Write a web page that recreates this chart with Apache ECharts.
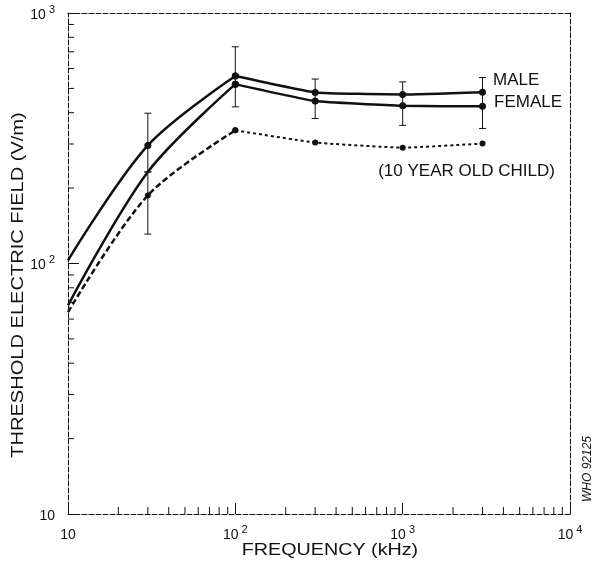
<!DOCTYPE html>
<html><head><meta charset="utf-8">
<script src="https://cdn.jsdelivr.net/npm/echarts@6/dist/echarts.min.js"></script>
<style>html,body{margin:0;padding:0;background:#fff}#c{width:594px;height:569px}</style>
</head><body><div id="c"></div>
<script>
// ---- data ----
const frequencies = [10, 30, 100, 300, 1000, 3000];          // kHz
const male   = [103, 296, 560, 482, 473, 483];               // V/m
const female = [68, 232, 520, 445, 426, 424];
const child  = [64, 187, 340, 304, 290, 301];
const maleMarkers   = [false, true, true, true, true, true];
const femaleMarkers = [false, false, true, true, true, true];
const childMarkers  = [false, true, true, true, true, true];
const errorFreq = [30, 30, 100, 300, 1000, 3000];
const errorLow  = [232, 131, 422, 379, 356, 346];
const errorHigh = [398, 232, 733, 545, 531, 553];
const seriesNames = ['MALE', 'FEMALE', '(10 YEAR OLD CHILD)'];
// ---- axes ----
const xTicks = [10, 100, 1000, 10000];
const xTickLabels = [['10', ''], ['10', '2'], ['10', '3'], ['10', '4']];
const yTicks = [10, 100, 1000];
const yTickLabels = [['10', ''], ['10', '2'], ['10', '3']];
const xMinorTicks = [20, 30, 40, 50, 60, 70, 80, 90, 200, 300, 400, 500, 600, 700, 800, 900, 2000, 3000, 4000, 5000, 6000, 7000, 8000, 9000];
const yMinorTicks = [20, 30, 40, 50, 60, 70, 80, 90, 200, 300, 400, 500, 600, 700, 800, 900];
const xTitle = 'FREQUENCY (kHz)';
const yTitle = 'THRESHOLD ELECTRIC FIELD (V/m)';
const sideNote = 'WHO 92125';
const peakIndex = 2; // 100 kHz: the curves rise up to here, then flatten

const FONT = '"Liberation Sans", Arial, Helvetica, sans-serif';
const INK = '#111';

function tickLabel(list, labels) {
  return function (v) {
    for (let i = 0; i < list.length; i++) {
      if (Math.abs(Math.log10(v) - Math.log10(list[i])) < 1e-6) {
        const l = labels[i];
        return l[1] ? '{b|' + l[0] + '}{s|' + l[1] + '}' : '{b|' + l[0] + '}';
      }
    }
    return '';
  };
}
const richTick = {
  b: { fontSize: 14, fontFamily: FONT, color: INK, lineHeight: 18, verticalAlign: 'bottom' },
  s: { fontSize: 11, fontFamily: FONT, color: INK, lineHeight: 18, verticalAlign: 'top', padding: [0, 0, 0, 3] }
};
const dashedLine = { show: true, lineStyle: { color: INK, width: 1, type: [5, 2] } };

function lineData(vals, markers, labelOpt) {
  return frequencies.map((f, i) => {
    const item = { value: [f, vals[i]], symbol: markers[i] ? 'circle' : 'none' };
    if (i === vals.length - 1 && labelOpt) item.label = labelOpt;
    return item;
  });
}
const labelBase = { show: true, color: INK, fontSize: 17, fontFamily: FONT };

function twoPart(name, vals, markers, labelOpt, size, styleRise, styleFlat) {
  const d = lineData(vals, markers, labelOpt);
  return [
    { name: name, type: 'line', smooth: 0.32, symbolSize: size, lineStyle: styleRise, itemStyle: { color: INK }, data: d.slice(0, peakIndex + 1), z: 3 },
    { name: name, type: 'line', smooth: 0.12, symbolSize: size, lineStyle: styleFlat, itemStyle: { color: INK }, data: d.slice(peakIndex), z: 3 }
  ];
}

const solid = { color: INK, width: 2.5 };
const series = [].concat(
  twoPart(seriesNames[0], male, maleMarkers, Object.assign({}, labelBase, { formatter: seriesNames[0], position: 'right', offset: [2, -12] }), 7, solid, solid),
  twoPart(seriesNames[1], female, femaleMarkers, Object.assign({}, labelBase, { formatter: seriesNames[1], position: 'right', offset: [3, -4] }), 7, solid, solid),
  twoPart(seriesNames[2], child, childMarkers, Object.assign({}, labelBase, { formatter: seriesNames[2], position: 'bottom', offset: [-16, 11] }), 6,
    { color: INK, width: 2.5, type: [6, 3] }, { color: INK, width: 2, type: [3, 3] }),
  [{
    type: 'custom', coordinateSystem: 'cartesian2d', silent: true, clip: false,
    encode: { x: 0, y: [1, 2] },
    data: errorFreq.map((f, i) => [f, errorLow[i], errorHigh[i]]),
    renderItem: function (params, api) {
      const lo = api.coord([api.value(0), api.value(1)]);
      const hi = api.coord([api.value(0), api.value(2)]);
      const w = 3.5;
      const st = { stroke: INK, lineWidth: 1 };
      return { type: 'group', children: [
        { type: 'line', shape: { x1: lo[0], y1: lo[1], x2: hi[0], y2: hi[1] }, style: st },
        { type: 'line', shape: { x1: lo[0] - w, y1: lo[1], x2: lo[0] + w, y2: lo[1] }, style: st },
        { type: 'line', shape: { x1: hi[0] - w, y1: hi[1], x2: hi[0] + w, y2: hi[1] }, style: st }
      ] };
    },
    z: 2
  }, {
    type: 'custom', coordinateSystem: 'cartesian2d', silent: true, clip: false,
    data: xMinorTicks.map(v => [v, yTicks[0]]),
    renderItem: function (params, api) {
      const p = api.coord([api.value(0), api.value(1)]);
      return { type: 'line', shape: { x1: p[0], y1: p[1], x2: p[0], y2: p[1] - 7 }, style: { stroke: INK, lineWidth: 1 } };
    }
  }, {
    type: 'custom', coordinateSystem: 'cartesian2d', silent: true, clip: false,
    data: yMinorTicks.map(v => [xTicks[0], v]),
    renderItem: function (params, api) {
      const p = api.coord([api.value(0), api.value(1)]);
      return { type: 'line', shape: { x1: p[0], y1: p[1], x2: p[0] + 6, y2: p[1] }, style: { stroke: INK, lineWidth: 1 } };
    }
  }]
);

const chart = echarts.init(document.getElementById('c'), null, { renderer: 'canvas' });
chart.setOption({
  animation: false,
  backgroundColor: '#fff',
  grid: { left: 68, right: 24, top: 13, bottom: 55, containLabel: false },
  xAxis: [{
    type: 'log', logBase: 10, min: 10, max: 10000,
    axisLine: dashedLine,
    axisTick: { show: true, inside: true, length: 11, lineStyle: { color: INK, width: 1 } },
    axisLabel: { margin: 10, formatter: tickLabel(xTicks, xTickLabels), rich: richTick },
    splitLine: { show: false }, minorTick: { show: false }
  }, {
    type: 'log', logBase: 10, min: 10, max: 10000, position: 'top',
    axisLine: dashedLine, axisTick: { show: false }, axisLabel: { show: false }, splitLine: { show: false }
  }],
  yAxis: [{
    type: 'log', logBase: 10, min: 10, max: 1000,
    axisLine: dashedLine,
    axisTick: { show: true, inside: true, length: 11, lineStyle: { color: INK, width: 1 } },
    axisLabel: { margin: 13, formatter: tickLabel(yTicks, yTickLabels), rich: richTick },
    splitLine: { show: false }
  }, {
    type: 'log', logBase: 10, min: 10, max: 1000, position: 'right',
    axisLine: dashedLine, axisTick: { show: false }, axisLabel: { show: false }, splitLine: { show: false }
  }],
  graphic: [
    { type: 'text', x: 330, y: 550, scaleX: 1.16, style: { text: xTitle, fill: INK, font: '17px ' + FONT, align: 'center', verticalAlign: 'middle' } },
    { type: 'text', x: 18, y: 285, rotation: Math.PI / 2, scaleX: 1.18, style: { text: yTitle, fill: INK, font: '17px ' + FONT, align: 'center', verticalAlign: 'middle' } },
    { type: 'text', x: 588, y: 469, rotation: Math.PI / 2, style: { text: sideNote, fill: INK, font: 'italic 12px ' + FONT, align: 'center', verticalAlign: 'middle' } }
  ],
  series: series
});
</script>
</body></html>
